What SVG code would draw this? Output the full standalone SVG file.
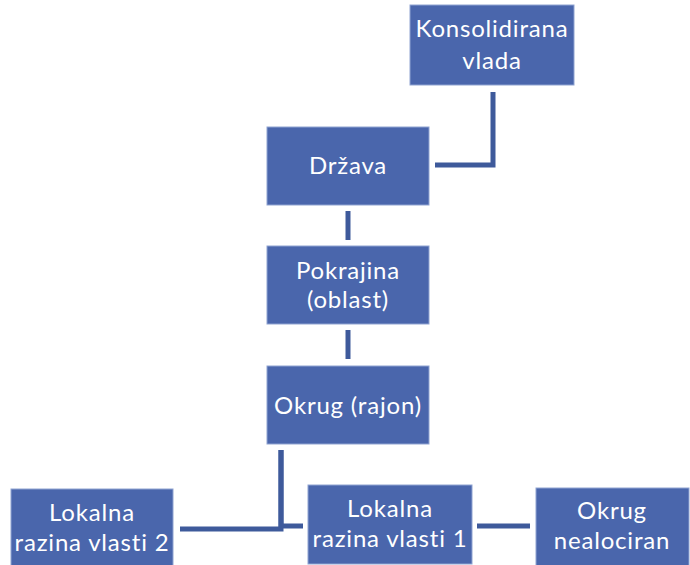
<svg xmlns="http://www.w3.org/2000/svg" width="690" height="565" viewBox="0 0 690 565">
<style>
.box{fill:#4A66AC;stroke:#8FA3D1;stroke-width:1}
.t{font-family:Lato,"Open Sans","Liberation Sans",sans-serif;font-size:24px;letter-spacing:0.8px;fill:#FFFFFF;text-anchor:middle}
.c{fill:none;stroke:#3E5A9B;stroke-width:5}
</style>
<rect width="690" height="565" fill="#FFFFFF"/>
<g id="connectors">
<polyline class="c" points="493,92 493,165 435,165"/>
<line class="c" x1="348" y1="211" x2="348" y2="240"/>
<line class="c" x1="348" y1="330" x2="348" y2="359"/>
<polyline class="c" points="281,450 281,526 303,526"/>
<polyline class="c" points="281,450 281,529 180,529"/>
<line class="c" x1="477" y1="526" x2="530" y2="526"/>
</g>
<g id="konsolidirana">
<rect class="box" x="410" y="5" width="164" height="80"/>
<text class="t" x="492" y="37">Konsolidirana</text>
<text class="t" x="492" y="69">vlada</text>
</g>
<g id="drzava">
<rect class="box" x="267" y="127" width="162" height="78"/>
<text class="t" x="348" y="174">Država</text>
</g>
<g id="pokrajina">
<rect class="box" x="267" y="246" width="162" height="78"/>
<text class="t" x="348" y="279">Pokrajina</text>
<text class="t" x="348" y="308">(oblast)</text>
</g>
<g id="okrug-rajon">
<rect class="box" x="267" y="366" width="162" height="78"/>
<text class="t" x="348" y="414">Okrug (rajon)</text>
</g>
<g id="lokalna2">
<rect class="box" x="11" y="489" width="162" height="80"/>
<text class="t" x="92" y="521">Lokalna</text>
<text class="t" x="92" y="551">razina vlasti 2</text>
</g>
<g id="lokalna1">
<rect class="box" x="308" y="485" width="164" height="79"/>
<text class="t" x="390" y="517">Lokalna</text>
<text class="t" x="390" y="547">razina vlasti 1</text>
</g>
<g id="okrug-nealociran">
<rect class="box" x="536" y="488" width="153" height="80"/>
<text class="t" x="612" y="519">Okrug</text>
<text class="t" x="612" y="549">nealociran</text>
</g>
</svg>
